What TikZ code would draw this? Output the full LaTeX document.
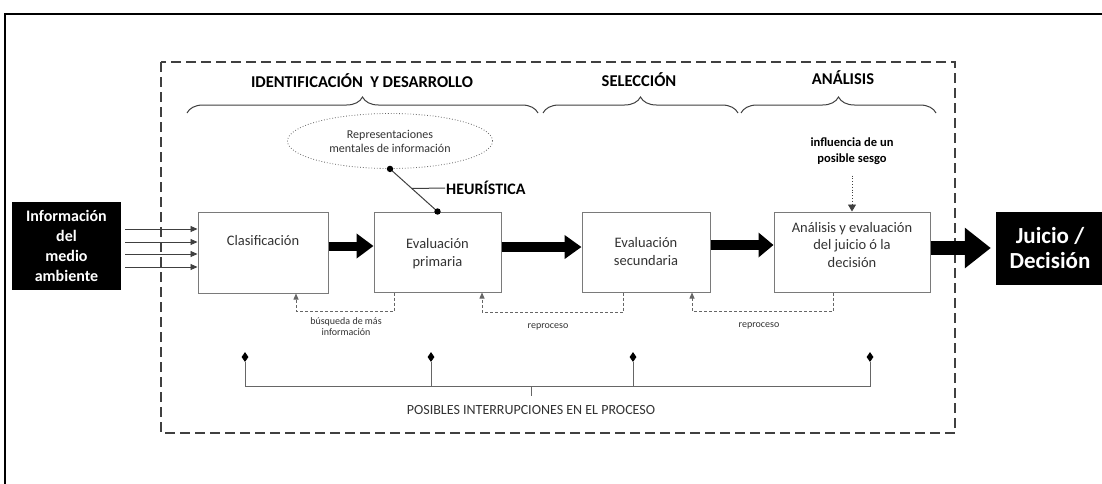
\documentclass[tikz,border=0pt]{standalone}
\usepackage{fontspec}
\setmainfont{Carlito}
\usetikzlibrary{arrows.meta,shapes.geometric,decorations.pathreplacing,calc}
\definecolor{boxgray}{HTML}{7A7A7A}
\definecolor{txt}{HTML}{333333}
\definecolor{dgray}{HTML}{404040}
\definecolor{lgray}{HTML}{666666}
\begin{document}
\begin{tikzpicture}[x=1pt,y=-1pt,
  procbox/.style={draw=boxgray, line width=1pt, fill=white, inner sep=0pt},
  boxtext/.style={text=txt, align=center, font=\fontsize{14.5}{17.5}\selectfont, inner sep=0pt},
  blackbox/.style={fill=black, text=white, align=center, inner sep=0pt},
  fat/.style={line width=#1, draw=black},
  fb/.style={draw=lgray, line width=0.8pt, dash pattern=on 3pt off 2pt, -{Triangle[length=6pt,width=5pt]}},
  small/.style={text=txt, align=center, font=\fontsize{10}{11.5}\selectfont, inner sep=0pt},
  hdr/.style={text=black, font=\bfseries\fontsize{16.5}{19}\selectfont, inner sep=0pt},
  bracestyle/.style={draw=dgray, line width=1pt, decorate, decoration={brace, amplitude=16pt}},
  dia/.style={diamond, fill=black, inner sep=0pt, minimum width=7pt, minimum height=10pt},
  gline/.style={draw=lgray, line width=1pt},
  thinarrow/.style={draw=dgray, line width=0.9pt, -{Triangle[length=7pt,width=6pt]}}
]
\useasboundingbox (0,0) rectangle (1102,483);
\fill[white] (0,0) rectangle (1102,483);
% outer frame
\draw[line width=2pt] (5,484) -- (5,14) -- (1103,14);
% dashed frame
\draw[draw=dgray, line width=1.6pt, dash pattern=on 10pt off 5pt] (161,62) rectangle (955,433);

% headers and braces
\node[hdr] (h1) at (362,81) {IDENTIFICACIÓN\ \ Y DESARROLLO};
\node[hdr] (h2) at (639,80) {SELECCIÓN};
\node[hdr] (h3) at (843,78) {ANÁLISIS};
\draw[bracestyle] (187,113) -- (538,113);
\draw[bracestyle] (543,113) -- (738,113);
\draw[bracestyle] (741,113) -- (936,113);

% boxes
\node[blackbox, minimum width=109pt, minimum height=88pt, font=\bfseries\fontsize{16}{20}\selectfont] (info) at (66.5,246) {Información\\del\\medio\\ambiente};
\node[procbox, minimum width=130pt, minimum height=81pt] (clas) at (263,252.5) {};
\node[procbox, minimum width=127pt, minimum height=80pt] (evp) at (437.5,252) {};
\node[procbox, minimum width=128pt, minimum height=80pt] (evs) at (646,252) {};
\node[procbox, minimum width=156pt, minimum height=80pt] (ana) at (852,252) {};
\node[blackbox, minimum width=108pt, minimum height=73pt, font=\bfseries\fontsize{23}{25}\selectfont] (juicio) at (1050,248.5) {Juicio /\\Decisión};

\node[boxtext] (clast) at (263,241) {Clasificación};
\node[boxtext] (evpt) at (437.5,253.5) {Evaluación\\primaria};
\node[boxtext] (evst) at (646,251.5) {Evaluación\\secundaria};
\node[boxtext] (anat) at (852,245) {Análisis y evaluación\\del juicio ó la\\decisión};

% thin input arrows
\coordinate (ie) at ($(info.east)+(4,0)$);
\foreach \yy in {229,242,254,267}{
  \draw[thinarrow] (ie |- 0,\yy) -- (clas.west |- 0,\yy);
}

% thick arrows
\draw[fat=9pt, -{Triangle[length=17pt,width=24pt]}] (clas.east |- 0,246) -- (evp.west |- 0,246);
\draw[fat=10pt, -{Triangle[length=17pt,width=23pt]}] (evp.east |- 0,247) -- (evs.west |- 0,247);
\draw[fat=10pt, -{Triangle[length=15pt,width=24pt]}] (evs.east |- 0,245) -- (ana.west |- 0,245);
\coordinate (jw) at ($(juicio.west)+(-5,0)$);
\draw[fat=14pt, -{Triangle[length=26pt,width=39pt]}] (ana.east |- 0,248) -- (jw |- 0,248);

% ellipse and heuristic
\node[ellipse, draw=lgray, line width=0.8pt, dotted, minimum width=205pt, minimum height=55pt, inner sep=0pt,
      text=txt, align=center, font=\fontsize{12}{14}\selectfont] (rep) at (390,141) {Representaciones\\mentales de información};
\draw[draw=dgray, line width=1pt] (rep.south) -- (evp.north);
\fill (rep.south) circle (3.2pt);
\fill (evp.north) circle (3.2pt);
\node[hdr, anchor=west, inner sep=1pt, font=\bfseries\fontsize{16}{19}\selectfont] (heur) at (445,188) {HEURÍSTICA};
\draw[draw=dgray, line width=1pt] ($(rep.south)!0.46!(evp.north)$) -- (heur.west);

% bias
\node[align=center, font=\bfseries\fontsize{12.5}{16}\selectfont, inner sep=0pt] (infl) at (852,151) {influencia de un\\posible sesgo};
\draw[draw=dgray, line width=0.8pt, dotted, -{Triangle[length=7pt,width=8pt]}] ($(infl.south)+(0,11)$) -- (ana.north);

% feedback loops
\draw[fb] (394,0 |- evp.south) -- (394,311) -| (296,0 |- clas.south);
\draw[fb] (623,0 |- evs.south) -- (623,312) -| (482,0 |- evp.south);
\draw[fb] (833,0 |- ana.south) -- (833,311) -| (692,0 |- evs.south);
\node[small] (fb1) at (346,326.5) {búsqueda de más\\información};
\node[small] (fb2) at (548,327) {reproceso};
\node[small] (fb3) at (759,326) {reproceso};

% interruptions
\node[dia] (d1) at (245,357) {};
\node[dia] (d2) at (431,357) {};
\node[dia] (d3) at (633,357) {};
\node[dia] (d4) at (870,357) {};
\node[text=txt, font=\fontsize{14}{16}\selectfont, inner sep=0pt] (posl) at (531,410) {POSIBLES INTERRUPCIONES EN EL PROCESO};
\draw[gline] (d1.south) -- (d1.south |- 0,386) -- (d4.south |- 0,386) -- (d4.south);
\draw[gline] (d2.south) -- (d2.south |- 0,386);
\draw[gline] (d3.south) -- (d3.south |- 0,386);
\draw[gline] (posl.north |- 0,386) -- (posl.north |- 0,396);
\end{tikzpicture}
\end{document}
